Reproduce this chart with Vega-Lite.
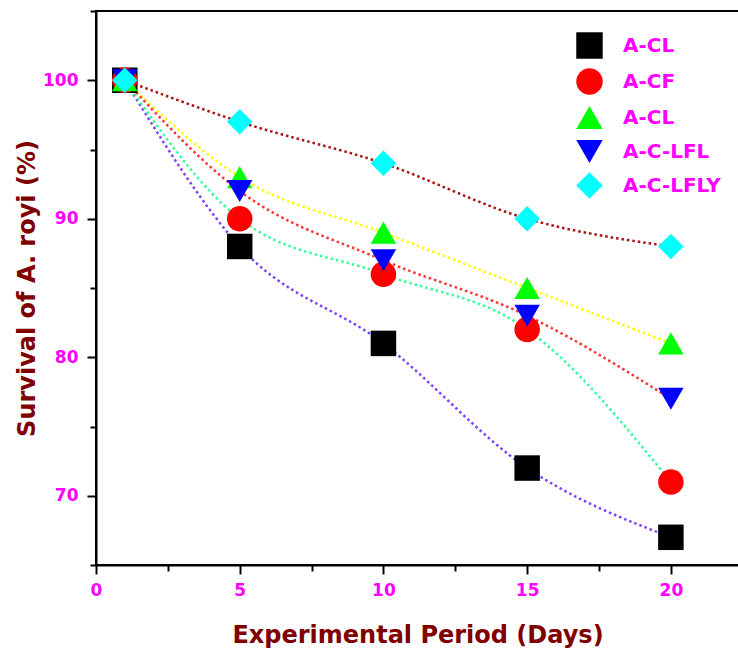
{
  "$schema": "https://vega.github.io/schema/vega-lite/v6.json",
  "autosize": {"type": "none"},
  "width": 643,
  "height": 554,
  "padding": {"left": 96, "top": 11, "right": 0, "bottom": 85},
  "background": "white",
  "config": {
    "view": {"stroke": "black", "strokeWidth": 2},
    "font": "DejaVu Sans"
  },
  "data": {
    "values": [
      {"series": "s1", "day": 1, "survival": 100},
      {"series": "s1", "day": 5, "survival": 88},
      {"series": "s1", "day": 10, "survival": 81},
      {"series": "s1", "day": 15, "survival": 72},
      {"series": "s1", "day": 20, "survival": 67},
      {"series": "s2", "day": 1, "survival": 100},
      {"series": "s2", "day": 5, "survival": 90},
      {"series": "s2", "day": 10, "survival": 86},
      {"series": "s2", "day": 15, "survival": 82},
      {"series": "s2", "day": 20, "survival": 71},
      {"series": "s3", "day": 1, "survival": 100},
      {"series": "s3", "day": 5, "survival": 93},
      {"series": "s3", "day": 10, "survival": 89},
      {"series": "s3", "day": 15, "survival": 85},
      {"series": "s3", "day": 20, "survival": 81},
      {"series": "s4", "day": 1, "survival": 100},
      {"series": "s4", "day": 5, "survival": 92},
      {"series": "s4", "day": 10, "survival": 87},
      {"series": "s4", "day": 15, "survival": 83},
      {"series": "s4", "day": 20, "survival": 77},
      {"series": "s5", "day": 1, "survival": 100},
      {"series": "s5", "day": 5, "survival": 97},
      {"series": "s5", "day": 10, "survival": 94},
      {"series": "s5", "day": 15, "survival": 90},
      {"series": "s5", "day": 20, "survival": 88}
    ]
  },
  "encoding": {
    "x": {
      "field": "day",
      "type": "quantitative",
      "scale": {"domain": [0, 22.37], "nice": false},
      "axis": {
        "title": "Experimental Period (Days)",
        "titleFont": "DejaVu Sans",
        "titleFontSize": 24,
        "titleFontWeight": "bold",
        "titleColor": "#800000",
        "titlePadding": 25,
        "values": [0, 2.5, 5, 7.5, 10, 12.5, 15, 17.5, 20],
        "labelExpr": "datum.value % 5 === 0 ? datum.label : ''",
        "labelColor": "#ff00ff",
        "labelFontSize": 17,
        "labelFontWeight": "bold",
        "labelPadding": 8,
        "labelFlush": false,
        "grid": false,
        "domainColor": "black",
        "domainWidth": 2,
        "tickColor": "black",
        "tickWidth": 2,
        "tickSize": {"condition": {"test": "datum.value % 5 === 0", "value": 9}, "value": 6}
      }
    },
    "y": {
      "field": "survival",
      "type": "quantitative",
      "scale": {"domain": [65, 105], "nice": false, "zero": false},
      "axis": {
        "title": "Survival of A. royi (%)",
        "titleFont": "DejaVu Sans",
        "titleFontSize": 24,
        "titleFontWeight": "bold",
        "titleColor": "#800000",
        "titlePadding": 3,
        "values": [65, 70, 75, 80, 85, 90, 95, 100, 105],
        "labelExpr": "datum.value % 10 === 0 ? datum.label : ''",
        "labelColor": "#ff00ff",
        "labelFontSize": 17,
        "labelFontWeight": "bold",
        "labelPadding": 9,
        "labelFlush": false,
        "grid": false,
        "domainColor": "black",
        "domainWidth": 2,
        "tickColor": "black",
        "tickWidth": 2,
        "tickSize": {"condition": {"test": "datum.value % 10 === 0", "value": 9}, "value": 6}
      }
    }
  },
  "layer": [
    {
      "transform": [{"filter": "datum.series === 's1'"}],
      "mark": {"type": "line", "interpolate": "monotone", "strokeWidth": 2.5, "strokeDash": [2.5, 3], "stroke": "#7f3fff"},
      "encoding": {}
    },
    {
      "transform": [{"filter": "datum.series === 's2'"}],
      "mark": {"type": "line", "interpolate": "monotone", "strokeWidth": 2.5, "strokeDash": [2.5, 3], "stroke": "#33ff99"},
      "encoding": {}
    },
    {
      "transform": [{"filter": "datum.series === 's3'"}],
      "mark": {"type": "line", "interpolate": "monotone", "strokeWidth": 2.5, "strokeDash": [2.5, 3], "stroke": "#ffff00"},
      "encoding": {}
    },
    {
      "transform": [{"filter": "datum.series === 's4'"}],
      "mark": {"type": "line", "interpolate": "monotone", "strokeWidth": 2.5, "strokeDash": [2.5, 3], "stroke": "#ff3333"},
      "encoding": {}
    },
    {
      "transform": [{"filter": "datum.series === 's5'"}],
      "mark": {"type": "line", "interpolate": "monotone", "strokeWidth": 2.5, "strokeDash": [2.5, 3], "stroke": "#aa1111"},
      "encoding": {}
    },
    {
      "mark": {"type": "point", "filled": true, "opacity": 1, "size": 650},
      "encoding": {
        "fill": {
          "field": "series",
          "type": "nominal",
          "scale": {"domain": ["s1", "s2", "s3", "s4", "s5"], "range": ["#000000", "#ff0000", "#00ff00", "#0000ff", "#00ffff"]},
          "legend": {
            "title": null,
            "orient": "none",
            "legendX": 480,
            "legendY": 21,
            "labelExpr": "datum.value === 's1' ? 'A-CL' : datum.value === 's2' ? 'A-CF' : datum.value === 's3' ? 'A-CL' : datum.value === 's4' ? 'A-C-LFL' : 'A-C-LFLY'",
            "labelColor": "#ff00ff",
            "labelFontSize": 20,
            "labelFontWeight": "bold",
            "labelFont": "DejaVu Sans",
            "symbolSize": 700,
            "symbolStrokeWidth": 0,
            "rowPadding": 9,
            "labelOffset": 20
          }
        },
        "shape": {
          "field": "series",
          "type": "nominal",
          "scale": {"domain": ["s1", "s2", "s3", "s4", "s5"], "range": ["square", "circle", "triangle-up", "triangle-down", "diamond"]},
          "legend": {
            "title": null,
            "orient": "none",
            "legendX": 480,
            "legendY": 21,
            "labelExpr": "datum.value === 's1' ? 'A-CL' : datum.value === 's2' ? 'A-CF' : datum.value === 's3' ? 'A-CL' : datum.value === 's4' ? 'A-C-LFL' : 'A-C-LFLY'",
            "labelColor": "#ff00ff",
            "labelFontSize": 20,
            "labelFontWeight": "bold",
            "labelFont": "DejaVu Sans",
            "symbolSize": 700,
            "symbolStrokeWidth": 0,
            "rowPadding": 9,
            "labelOffset": 20
          }
        }
      }
    }
  ]
}
